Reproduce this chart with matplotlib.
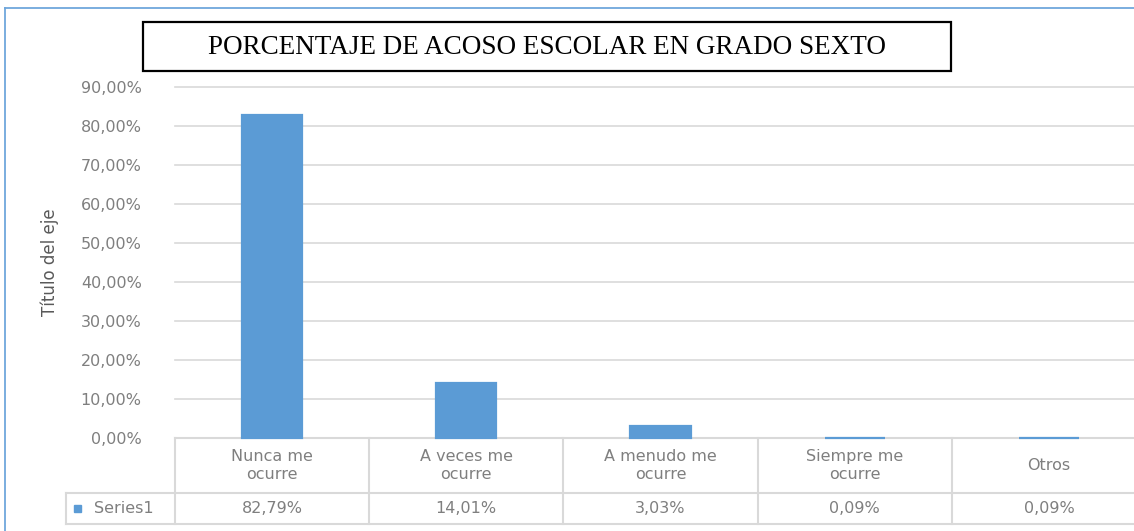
import matplotlib
matplotlib.use("Agg")
import matplotlib.pyplot as plt
from matplotlib.patches import Rectangle
from matplotlib.lines import Line2D

categories = ["Nunca me\nocurre", "A veces me\nocurre", "A menudo me\nocurre", "Siempre me\nocurre", "Otros"]
values = [82.79, 14.01, 3.03, 0.09, 0.09]
value_labels = ["82,79%", "14,01%", "3,03%", "0,09%", "0,09%"]
yticks = [0, 10, 20, 30, 40, 50, 60, 70, 80, 90]
ytick_labels = ["0,00%", "10,00%", "20,00%", "30,00%", "40,00%", "50,00%", "60,00%", "70,00%", "80,00%", "90,00%"]
series_name = "Series1"
title = "PORCENTAJE DE ACOSO ESCOLAR EN GRADO SEXTO"
ylabel = "Título del eje"

W, H = 1134, 531
fig = plt.figure(figsize=(W / 100, H / 100), dpi=100)
fig.patch.set_facecolor("white")

def fx(px):
    return px / W

def fy(py):
    return 1 - py / H

grey_line = "#D9D9D9"
txt_grey = "#7F7F7F"
bar_color = "#5B9BD5"

# Main plot axes
x_left, x_right = 175, 1146
y_top, y_bot = 87, 438
ax = fig.add_axes([fx(x_left), fy(y_bot), fx(x_right - x_left), (y_bot - y_top) / H])
ax.set_zorder(5)
ax.set_xlim(-0.5, len(categories) - 0.5)
ax.set_ylim(0, 90)
ax.bar(range(len(values)), values, width=0.31, color=bar_color,
       edgecolor=bar_color, linewidth=1.6, zorder=3, clip_on=False)
for t in yticks[1:]:
    ax.axhline(t, color=grey_line, lw=1.2, zorder=1, clip_on=False)
for s in ax.spines.values():
    s.set_visible(False)
ax.set_xticks([])
ax.set_yticks(yticks)
ax.set_yticklabels(ytick_labels, color=txt_grey, fontsize=11.5, family="DejaVu Sans")
ax.tick_params(axis="y", length=0, pad=24)
ax.patch.set_alpha(0)

# Y label
fig.text(fx(50), fy(262), ylabel, rotation=90, ha="center", va="center",
         fontsize=12, color="#595959", family="DejaVu Sans")

# Table axes
col_w = (x_right - x_left) / len(categories)
t_left = 66
t_top, t_mid, t_bot = 438, 493, 524
tax = fig.add_axes([fx(t_left), fy(t_bot), fx(x_right - t_left), (t_bot - t_top) / H])
tax.set_zorder(1)
xmin = -0.5 - (x_left - t_left) / col_w
tax.set_xlim(xmin, len(categories) - 0.5)
tax.set_ylim(0, 1)
tax.axis("off")
ymid = (t_bot - t_mid) / (t_bot - t_top)
lw = 1.5
tax.plot([-0.5, len(categories) - 0.5], [1, 1], color=grey_line, lw=lw, clip_on=False)
tax.plot([xmin, len(categories) - 0.5], [ymid, ymid], color=grey_line, lw=lw, clip_on=False)
tax.plot([xmin, len(categories) - 0.5], [0, 0], color=grey_line, lw=lw, clip_on=False)
for i in range(len(categories) + 1):
    tax.plot([i - 0.5, i - 0.5], [0, 1], color=grey_line, lw=lw, clip_on=False)
tax.plot([xmin, xmin], [0, ymid], color=grey_line, lw=lw, clip_on=False)

for i, (c, v) in enumerate(zip(categories, value_labels)):
    tax.text(i, (1 + ymid) / 2, c, ha="center", va="center", fontsize=11.5,
             color=txt_grey, family="DejaVu Sans", linespacing=1.25)
    tax.text(i, ymid / 2, v, ha="center", va="center", fontsize=11.5,
             color=txt_grey, family="DejaVu Sans")

# Legend key in table
key_px = 7
key_h = key_px / (t_bot - t_top)
tax.add_patch(Rectangle((xmin + 8 / col_w, ymid / 2 - key_h / 2), key_px / col_w, key_h,
                        color=bar_color, clip_on=False))
tax.text(xmin + 28 / col_w, ymid / 2, series_name, ha="left", va="center",
         fontsize=11.5, color=txt_grey, family="DejaVu Sans")

# Title box
fig.patches.append(Rectangle((fx(143), fy(71)), fx(951 - 143), (71 - 22) / H,
                             transform=fig.transFigure, fill=False,
                             edgecolor="black", lw=1.6))
fig.text(fx(547), fy(47), title, ha="center", va="center",
         fontsize=19.5, family="Liberation Serif", color="black")

# Outer frame (blue)
fig.add_artist(Line2D([fx(5), fx(5)], [fy(8), 0], color="#6FA7DC", lw=1.3,
                      transform=fig.transFigure))
fig.add_artist(Line2D([fx(5), 1], [fy(8), fy(8)], color="#6FA7DC", lw=1.3,
                      transform=fig.transFigure))

fig.savefig("out.png", dpi=100, facecolor="white")
